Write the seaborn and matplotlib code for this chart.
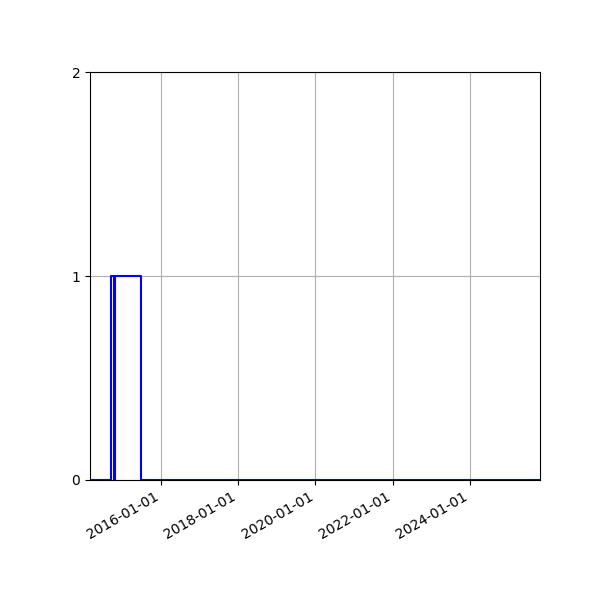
import pandas as pd
import matplotlib
matplotlib.use('Agg')
import matplotlib.pyplot as plt
import matplotlib.dates as mdates
import seaborn as sns

# step data: value holds until next date
dates = ['2014-02-28', '2014-09-14', '2014-10-15', '2014-10-24', '2015-06-29', '2025-10-25']
values = [0, 1, 0, 1, 0, 0]

df = pd.DataFrame({'date': pd.to_datetime(dates), 'value': values})

fig, ax = plt.subplots(figsize=(6, 6), dpi=100)
sns.lineplot(data=df, x='date', y='value', drawstyle='steps-post', color='blue', ax=ax)

ax.set_xlim(df['date'].iloc[0], df['date'].iloc[-1])
ax.set_ylim(0, 2)
ax.set_yticks([0, 1, 2])
ax.xaxis.set_major_locator(mdates.YearLocator(2))
ax.xaxis.set_major_formatter(mdates.DateFormatter('%Y-%m-%d'))
ax.set_xlabel('')
ax.set_ylabel('')
ax.grid(True)
fig.autofmt_xdate()
fig.subplots_adjust(left=0.15)

plt.savefig('out.png')
